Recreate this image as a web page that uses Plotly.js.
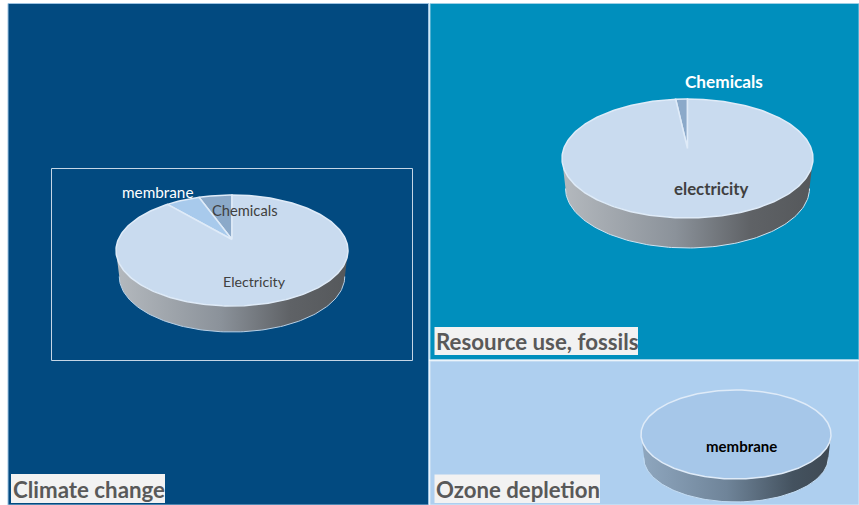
<!DOCTYPE html>
<html>
<head>
<meta charset="utf-8">
<script src="https://cdn.plot.ly/plotly-3.0.1.min.js"></script>
<style>html,body{margin:0;padding:0;background:#fff}#chart{width:859px;height:505px}</style>
</head>
<body>
<div id="chart"></div>
<script>
// Contribution shares (%) per impact category
const climateLabels = ['Chemicals', 'membrane', 'Electricity'];
const climateShares = [4.6, 4.8, 90.6];
const climateColors = ['#8ba9c9', '#a8caec', '#c9dbef'];

const resourceLabels = ['Chemicals', 'electricity'];
const resourceShares = [1.5, 98.5];
const resourceColors = ['#8ba9c9', '#c9dbef'];

const ozoneLabels = ['membrane'];
const ozoneShares = [100];
const ozoneColors = ['#a6c7e9'];

const FONT = 'Lato, "Open Sans", sans-serif';
const RIM = '#dfebf8';

// Traces for one tilted pie: wall first, then one wedge per share, drawn
// counter-clockwise from twelve o'clock. The apex sits above the ellipse
// centre and the wall's lower edge is slightly narrower, to mimic the
// perspective of a tilted disc.
function tiltedPie(p, shares, colors, wall) {
  const point = t => [p.cx + p.rx * Math.sin(t), p.cy - p.ry * Math.cos(t)];
  const traces = [];
  const wx = [], wy = [];
  for (let i = 0; i <= 120; i++) {
    const [x, y] = point(Math.PI / 2 + Math.PI * i / 120);
    wx.push(x); wy.push(y);
  }
  const bx = wx.slice().reverse().map(x => p.cx + (x - p.cx) * 0.972);
  const by = wy.slice().reverse().map(y => y + p.depth);
  traces.push({
    x: wx.concat(bx, wx[0]), y: wy.concat(by, wy[0]),
    mode: 'lines', fill: 'toself', line: {width: 0},
    fillgradient: {type: 'horizontal', colorscale: wall},
    hoverinfo: 'skip', showlegend: false
  });
  traces.push({
    x: bx, y: by, mode: 'lines', line: {color: p.edge, width: 1},
    hoverinfo: 'skip', showlegend: false
  });
  const total = shares.reduce((a, b) => a + b, 0);
  let start = 0;
  shares.forEach((s, k) => {
    const sweep = 2 * Math.PI * s / total;
    const n = Math.max(8, Math.round(s * 3));
    const xs = [], ys = [];
    const full = s === total;
    if (!full) { xs.push(p.cx); ys.push(p.cy - p.lift); }
    for (let i = 0; i <= n; i++) {
      const [x, y] = point(-(start + sweep * i / n));
      xs.push(x); ys.push(y);
    }
    if (!full) { xs.push(p.cx); ys.push(p.cy - p.lift); }
    traces.push({
      x: xs, y: ys, mode: 'lines', fill: 'toself', fillcolor: colors[k],
      line: {color: RIM, width: 1.5}, hoverinfo: 'skip', showlegend: false
    });
    start += sweep;
  });
  return traces;
}

const greyWall = [[0, '#b4b9be'], [0.45, '#8b929a'], [0.75, '#5f6266'], [1, '#55585b']];
const blueWall = [[0, '#8fa7bf'], [0.45, '#6f8499'], [0.8, '#44525f'], [1, '#3f4a54']];

const data = [].concat(
  tiltedPie({cx: 232, cy: 250.5, rx: 116, ry: 55.5, depth: 26, lift: 11, edge: '#b8d0e6'},
            climateShares, climateColors, greyWall),
  tiltedPie({cx: 687.5, cy: 158.5, rx: 125.5, ry: 59.5, depth: 30, lift: 10, edge: '#cfe3f0'},
            resourceShares, resourceColors, greyWall),
  tiltedPie({cx: 736, cy: 434.5, rx: 95, ry: 44.5, depth: 23, lift: 0, edge: '#c4dcf2'},
            ozoneShares, ozoneColors, blueWall)
);

const panel = (x0, y0, x1, y1, color, line) => ({
  type: 'rect', layer: 'below', xref: 'x', yref: 'y', x0, y0, x1, y1,
  fillcolor: color, line: line || {width: 0}
});

const shapes = [
  panel(8, 3.5, 428.5, 505, '#024a80', {color: '#9dc3e2', width: 1}),
  panel(430, 3.5, 859, 359.5, '#008fbd', {color: '#9dd0e6', width: 1}),
  panel(430, 361, 859, 505, '#aecfef', {color: '#d8e8f6', width: 1}),
  panel(51.5, 168.5, 412.5, 360.5, 'rgba(0,0,0,0)', {color: '#c5d6e6', width: 1}),
  panel(11, 474, 165, 503, '#f2f2f2'),
  panel(434.5, 327, 638, 355, '#f2f2f2'),
  panel(434.5, 474.5, 600, 503, '#f2f2f2')
];

const note = (x, y, text, size, color, bold, anchor) => ({
  x, y, xref: 'x', yref: 'y', xanchor: anchor || 'center', yanchor: 'middle',
  showarrow: false, text: bold ? '<b>' + text + '</b>' : text,
  font: {family: FONT, size, color}
});

const annotations = [
  note(157.5, 192, climateLabels[1], 15.3, '#ffffff'),
  note(245, 210, climateLabels[0], 14.7, '#404040'),
  note(254, 281, climateLabels[2], 14.2, '#404040'),
  note(724, 81, resourceLabels[0], 17.2, '#ffffff', true),
  note(711.5, 188, resourceLabels[1], 16.8, '#404040', true),
  note(741, 446, ozoneLabels[0], 15, '#000000', true),
  note(10.5, 489, 'Climate change', 22.3, '#595959', true, 'left'),
  note(433.5, 341.5, 'Resource use, fossils', 22.3, '#595959', true, 'left'),
  note(433.5, 489, 'Ozone depletion', 22.2, '#595959', true, 'left')
];

const hidden = {visible: false, fixedrange: true};
const layout = {
  width: 859, height: 505,
  margin: {l: 0, r: 0, t: 0, b: 0},
  paper_bgcolor: '#ffffff', plot_bgcolor: '#ffffff',
  showlegend: false,
  xaxis: Object.assign({range: [0, 859]}, hidden),
  yaxis: Object.assign({range: [505, 0]}, hidden),
  shapes, annotations
};

Plotly.newPlot('chart', data, layout, {displayModeBar: false, staticPlot: true});
</script>
</body>
</html>
